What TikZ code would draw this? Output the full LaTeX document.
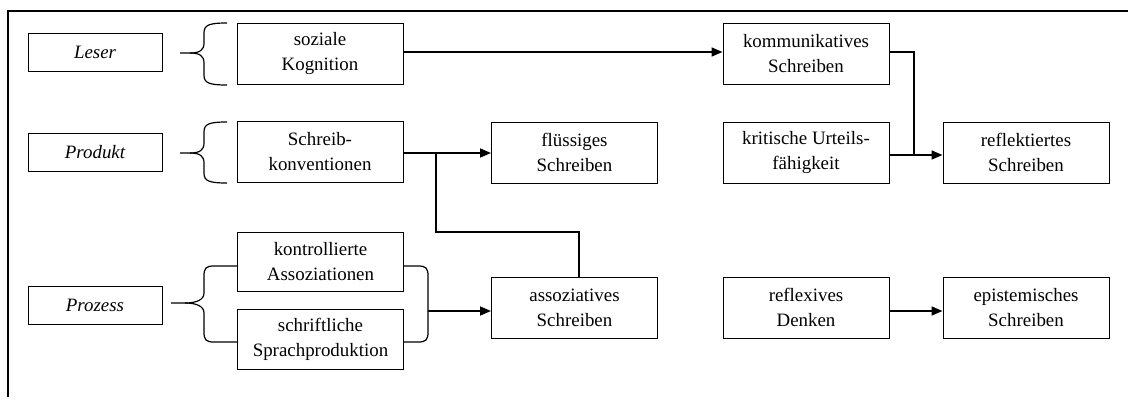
\documentclass[tikz,border=0pt]{standalone}
\usepackage{fontspec}
\setmainfont{Liberation Serif}
\usetikzlibrary{arrows.meta,calc}
\begin{document}
\begin{tikzpicture}[x=1pt,y=-1pt,
  every node/.style={font=\fontsize{18.9}{25}\selectfont, align=center, inner sep=0pt},
  lbl/.style={draw, line width=1pt, minimum width=134pt, minimum height=38pt, font=\fontsize{18.9}{25}\selectfont\itshape},
  box/.style={draw, line width=1pt, minimum width=166pt, minimum height=61pt},
  conn/.style={line width=1.6pt},
  arr/.style={line width=1.6pt, -{Triangle[length=11pt,width=9pt]}},
  brace/.style={line width=1.2pt, line join=round}]
\useasboundingbox (0,0) rectangle (1128,397);
% frame
\draw[line width=1.5pt] (8,397) -- (8,11) -- (1128,11);

% category labels
\node[lbl] (leser)   at (95,52)    {Leser};
\node[lbl] (produkt) at (95,152)   {Produkt};
\node[lbl] (prozess) at (95,305.5) {Prozess};

% boxes
\node[box] (soz)     at (320,53.5)    {soziale\\Kognition};
\node[box] (schreib) at (320,152)     {Schreib-\\konventionen};
\node[box,minimum height=59pt] (kontr)   at (320.5,261.5) {kontrollierte\\Assoziationen};
\node[box,minimum height=60pt] (schrift) at (320.5,339)   {schriftliche\\Sprachproduktion};
\node[box] (fluss)   at (574.5,152.5) {flüssiges\\Schreiben};
\node[box] (assoz)   at (574.5,307.5) {assoziatives\\Schreiben};
\node[box] (komm)    at (806,53.5)    {kommunikatives\\Schreiben};
\node[box] (krit)    at (806,152.5)   {kritische Urteils-\\fähigkeit};
\node[box] (refx)    at (806,307.5)   {reflexives\\Denken};
\node[box] (reflekt) at (1026,152.5)  {reflektiertes\\Schreiben};
\node[box] (epist)   at (1026,307.5)  {epistemisches\\Schreiben};

% braces
\draw[brace] (227,23) .. controls (209,23) and (204,25) .. (204,33) -- (204,43)
  .. controls (204,50) and (200,53) .. (190,53) -- (180,53);
\draw[brace] (227,85) .. controls (209,85) and (204,83) .. (204,75) -- (204,63)
  .. controls (204,56) and (200,53) .. (190,53);
\draw[brace] (227,122) .. controls (209,122) and (204,124) .. (204,132) -- (204,143)
  .. controls (204,150) and (200,153) .. (190,153) -- (180,153);
\draw[brace] (227,183) .. controls (209,183) and (204,181) .. (204,173) -- (204,163)
  .. controls (204,156) and (200,153) .. (190,153);
\draw[brace] (kontr.west |- 0,266) -- (214,266) .. controls (206,266) and (204,268) .. (204,276) -- (204,293)
  .. controls (204,300) and (196,303) .. (185,303) -- (171,303);
\draw[brace] (schrift.west |- 0,342) -- (214,342) .. controls (206,342) and (204,340) .. (204,332) -- (204,313)
  .. controls (204,306) and (196,303) .. (185,303);
\draw[brace] (kontr.east |- 0,266) -- (418,266) .. controls (426,266) and (428,268) .. (428,276) -- (428,332)
  .. controls (428,340) and (426,342) .. (418,342) -- (schrift.east |- 0,342);
\coordinate (pm) at (428,311);

% connectors
\draw[arr] (soz.east |- 0,52) -- (komm.west |- 0,52);
\draw[arr] (schreib.east |- 0,153) -- (fluss.west |- 0,153);
\coordinate (j1) at (436,153);
\coordinate (j2) at (579,232);
\draw[conn] (j1) -- (j1 |- j2) -- (j2) -- (j2 |- assoz.north);
\draw[arr] (pm) -- (assoz.west |- pm);
\coordinate (k1) at (914,52);
\draw[conn] (komm.east |- k1) -- (k1) -- (914,155);
\draw[arr] (krit.east |- 0,155) -- (reflekt.west |- 0,155);
\draw[arr] (refx.east |- 0,311) -- (epist.west |- 0,311);
\end{tikzpicture}
\end{document}
